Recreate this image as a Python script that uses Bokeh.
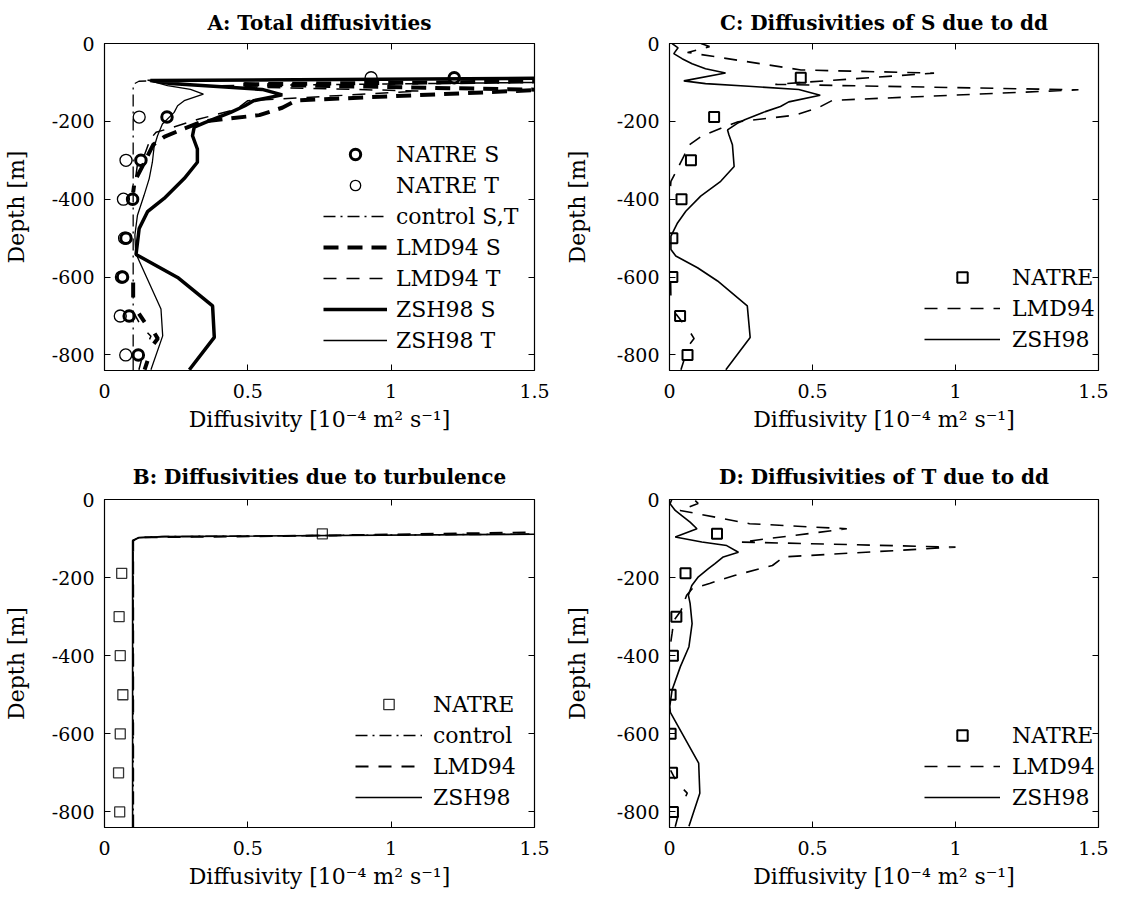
import numpy as np
from bokeh.plotting import figure
from bokeh.models import Range1d, FixedTicker, LinearAxis, Legend, LegendItem
from bokeh.layouts import column, row
from bokeh.embed import file_html
from bokeh.resources import INLINE

NAN = float("nan")

# ---------------- data ----------------
x_ticks = [0, 0.5, 1, 1.5]
x_tick_labels = ["0", "0.5", "1", "1.5"]
y_ticks = [-800, -600, -400, -200, 0]
y_tick_labels = ["-800", "-600", "-400", "-200", "0"]

natre_depth = [-88, -189, -300, -400, -500, -600, -700, -800]

# Panel A: total diffusivities
natre_S_total = [1.22, 0.218, 0.127, 0.098, 0.075, 0.063, 0.086, 0.118]
natre_T_total = [0.93, 0.121, 0.075, 0.066, 0.070, 0.059, 0.055, 0.074]
control_x = [0.10, 0.10, 0.12, 0.20, 1.50, 2.50]
control_d = [-840, -105, -97, -95, -88.5, -84]
lmd_S_total_x = [10, 2.5, 0.47, 1.53, 0.67, 0.62, 0.54, 0.34, 0.28, 0.21, 0.17, 0.13, 0.105, 0.10,
                 NAN, 0.10, 0.10, NAN, 0.12, 0.14, NAN, 0.175, 0.186, 0.172, NAN, 0.15, 0.14]
lmd_S_total_d = [-70, -90, -105, -119, -146, -165, -184, -201, -218, -239, -260, -319, -354, -383,
                 NAN, -614, -657, NAN, -694, -716, NAN, -745, -758, -771, NAN, -815, -838]
lmd_T_total_x = [10, 2.5, 0.35, 1.10, 0.50, 0.46, 0.33, 0.24, 0.18, 0.16, 0.14, 0.115, 0.109, 0.104,
                 NAN, 0.104, 0.12, NAN, 0.15, 0.162, 0.157, NAN, 0.13, 0.12]
lmd_T_total_d = [-70, -92, -109, -122, -147, -169, -194, -215, -228, -245, -285, -310, -343, -368,
                 NAN, -694, -716, NAN, -743, -752, -760, NAN, -810, -838]
zsh_S_total_x = [10, 1.6, 0.16, 0.23, 0.38, 0.55, 0.62, 0.52, 0.49, 0.44, 0.35, 0.313, 0.307, 0.324,
                 0.324, 0.278, 0.208, 0.150, 0.121, 0.110, 0.255, 0.377, 0.383, 0.296]
zsh_S_total_d = [-80, -89, -95, -103, -110, -118, -132, -147, -160, -177, -203, -215, -237, -271,
                 -305, -347, -398, -432, -475, -542, -601, -674, -755, -838]
zsh_T_total_x = [10, 1.55, 0.15, 0.22, 0.30, 0.345, 0.278, 0.255, 0.243, 0.202, 0.185, 0.173, 0.167,
                 0.156, 0.138, 0.115, 0.106, 0.109, 0.197, 0.203, 0.162]
zsh_T_total_d = [-80, -89, -94, -108, -118, -130, -147, -160, -177, -207, -237, -266, -305,
                 -347, -390, -441, -492, -539, -682, -751, -838]

# Panel B: turbulence
turb_natre = [0.76, 0.060, 0.051, 0.055, 0.064, 0.055, 0.049, 0.053]
turb_control_x = [0.10, 0.10, 0.12, 0.20, 1.50, 2.50]
turb_control_d = [-840, -105, -97, -95, -88.5, -84]
turb_lmd_x = [0.10, 0.10, 0.13, 0.79, 1.50, 2.50]
turb_lmd_d = [-840, -105, -97, -92, -84, -72]
turb_zsh_x = [0.098, 0.098, 0.12, 0.21, 1.50, 2.50]
turb_zsh_d = [-840, -105, -98, -95, -89, -84]

# Panel C: S due to double diffusion
ddS_natre = [0.459, 0.156, 0.075, 0.042, 0.010, 0.010, 0.037, 0.063]
ddS_lmd_x = [0.11, 0.14, 0.063, 0.46, 0.925, 0.37, 1.43, 0.57, 0.52, 0.44, 0.24, 0.18, 0.11, 0.07,
             0.03, 0.005, 0.002, NAN, 0.004, 0.005, NAN, 0.022, 0.045, NAN, 0.075, 0.086, 0.072,
             NAN, 0.05, 0.04]
ddS_lmd_d = [0, -8, -23, -68, -76, -105, -119, -146, -165, -184, -201, -218, -239, -260,
             -319, -354, -383, NAN, -614, -657, NAN, -694, -716, NAN, -745, -758, -771,
             NAN, -815, -838]
ddS_zsh_x = [0.009, 0.030, 0.015, 0.044, 0.079, 0.126, 0.196, 0.050, 0.126, 0.277, 0.452, 0.527,
             0.417, 0.388, 0.335, 0.265, 0.237, 0.203, 0.208, 0.220, 0.226, 0.179, 0.109, 0.057,
             0.028, 0.005, 0.005, 0.022, 0.098, 0.168, 0.272, 0.282, 0.197]
ddS_zsh_d = [0, -11, -26, -39, -52, -65, -76, -96, -103, -110, -118, -133,
             -150, -162, -175, -195, -205, -222, -235, -260, -316, -354, -392, -431,
             -461, -495, -529, -546, -576, -610, -674, -755, -838]

# Panel D: T due to double diffusion
ddT_natre = [0.166, 0.056, 0.024, 0.012, 0.004, 0.004, 0.009, 0.012]
ddT_lmd_x = [0.09, 0.10, 0.037, 0.28, 0.62, 0.25, 1.00, 0.40, 0.36, 0.23, 0.14, 0.08, 0.06, 0.04,
             0.015, 0.009, 0.004, NAN, 0.004, 0.02, NAN, 0.05, 0.062, 0.057, NAN, 0.03, 0.02]
ddT_lmd_d = [-3, -10, -28, -62, -75, -109, -122, -147, -169, -194, -215, -228, -245, -285,
             -310, -343, -368, NAN, -694, -716, NAN, -743, -752, -760, NAN, -810, -838]
ddT_zsh_x = [0.008, 0.002, 0.020, 0.043, 0.072, 0.096, 0.020, 0.113, 0.200, 0.241, 0.188, 0.159,
             0.136, 0.101, 0.078, 0.066, 0.072, 0.079, 0.068, 0.038, 0.009, 0.001, 0.003, 0.102,
             0.106, 0.068]
ddT_zsh_d = [0, -11, -28, -41, -58, -75, -96, -109, -118, -135, -147, -164,
             -177, -198, -220, -245, -266, -318, -377, -428, -488, -530, -545, -675,
             -752, -837]

# ---------------- styling helpers ----------------
FONT = "DejaVu Serif"
XLABEL = "Diffusivity [10\u207b\u2074 m\u00b2 s\u207b\u00b9]"


def make_fig(title, bl, br, bt, bb, fw, fh, title_standoff, ylab_standoff, top_gap):
    p = figure(frame_width=fw, frame_height=fh,
               x_range=Range1d(0, 1.5), y_range=Range1d(-840, 0),
               output_backend="svg", toolbar_location=None, title=title,
               min_border_left=bl, min_border_right=br,
               min_border_top=bt, min_border_bottom=bb,
               background_fill_color="white", border_fill_color="white")
    p.title.text_font = FONT
    p.title.text_font_style = "bold"
    p.title.text_font_size = "20px"
    p.title.text_color = "black"
    p.title.align = "center"
    p.title.standoff = title_standoff
    p.xgrid.visible = False
    p.ygrid.visible = False
    p.outline_line_color = "black"
    p.outline_line_width = 1.2
    p.outline_line_alpha = 1.0

    xa = p.xaxis[0]
    ya = p.yaxis[0]
    xa.ticker = FixedTicker(ticks=x_ticks)
    xa.major_label_overrides = dict(zip(x_ticks, x_tick_labels))
    ya.ticker = FixedTicker(ticks=y_ticks)
    ya.major_label_overrides = dict(zip(y_ticks, y_tick_labels))
    xa.axis_label = XLABEL
    ya.axis_label = "Depth [m]"
    xa.major_label_standoff = 13
    xa.axis_label_standoff = 6
    ya.major_label_standoff = 10
    ya.axis_label_standoff = ylab_standoff
    for ax in (xa, ya):
        ax.axis_line_color = None
        ax.major_tick_in = 6
        ax.major_tick_out = 0
        ax.minor_tick_in = 0
        ax.minor_tick_out = 0
        ax.major_tick_line_color = "black"
        ax.major_label_text_font = FONT
        ax.major_label_text_font_size = "19px"
        ax.major_label_text_color = "black"
        ax.axis_label_text_font = FONT
        ax.axis_label_text_font_style = "normal"
        ax.axis_label_text_font_size = "22px"
        ax.axis_label_text_color = "black"

    for place, ticks, gap in (("above", x_ticks, top_gap), ("right", y_ticks, 0)):
        ax = LinearAxis(ticker=FixedTicker(ticks=ticks))
        ax.major_label_overrides = {t: "" for t in ticks}
        ax.major_label_text_font_size = "0px"
        ax.major_label_standoff = gap
        ax.axis_line_color = None
        ax.major_tick_in = 6
        ax.major_tick_out = 0
        ax.minor_tick_in = 0
        ax.minor_tick_out = 0
        ax.major_tick_line_color = "black"
        p.add_layout(ax, place)
    return p


def add_legend(p, items, loc, glyph_w, standoff):
    leg = Legend(items=[LegendItem(label=l, renderers=[r]) for l, r in items],
                 location=loc, orientation="vertical", padding=0, margin=0,
                 spacing=5, glyph_width=glyph_w, glyph_height=26, label_height=26,
                 label_standoff=standoff, label_text_font=FONT,
                 label_text_font_size="22px", label_text_color="black",
                 border_line_color=None, background_fill_alpha=0)
    p.add_layout(leg)


THICK_DASH = "15 9"
THIN_DASH = "13 10"
DASH_DOT = "12 5 2 5"

# ---------------- Panel A ----------------
pA = make_fig("A: Total diffusivities", 103, 19, 41, 72, 430, 327, 17, 20, 0)
rA1 = pA.scatter(natre_S_total, natre_depth, marker="circle", size=10.5,
                 fill_color=None, line_color="black", line_width=3)
rA2 = pA.scatter(natre_T_total, natre_depth, marker="circle", size=12,
                 fill_color=None, line_color="black", line_width=1.3)
rA3 = pA.line(control_x, control_d, line_color="black", line_width=1.3, line_dash=DASH_DOT)
rA4 = pA.line(lmd_S_total_x, lmd_S_total_d, line_color="black", line_width=4, line_dash=THICK_DASH)
rA5 = pA.line(lmd_T_total_x, lmd_T_total_d, line_color="black", line_width=1.5, line_dash=THIN_DASH)
rA6 = pA.line(zsh_S_total_x, zsh_S_total_d, line_color="black", line_width=3.5)
rA7 = pA.line(zsh_T_total_x, zsh_T_total_d, line_color="black", line_width=1.3)
add_legend(pA, [("NATRE S", rA1), ("NATRE T", rA2), ("control S,T", rA3),
                ("LMD94 S", rA4), ("LMD94 T", rA5), ("ZSH98 S", rA6), ("ZSH98 T", rA7)],
           (219, 17), 64, 9)

# ---------------- Panel C ----------------
pC = make_fig("C: Diffusivities of S due to dd", 116, 10, 41, 72, 429, 327, 17, 24, 0)
rC1 = pC.scatter(ddS_natre, natre_depth, marker="square", size=10,
                 fill_color=None, line_color="black", line_width=2)
rC2 = pC.line(ddS_lmd_x, ddS_lmd_d, line_color="black", line_width=1.6, line_dash=THIN_DASH)
rC3 = pC.line(ddS_zsh_x, ddS_zsh_d, line_color="black", line_width=1.6)
add_legend(pC, [("NATRE", rC1), ("LMD94", rC2), ("ZSH98", rC3)], (255, 18), 76, 12)

# ---------------- Panel B ----------------
pB = make_fig("B: Diffusivities due to turbulence", 103, 19, 57, 66, 430, 328, 22, 20, 5)
rB1 = pB.scatter(turb_natre, natre_depth, marker="square", size=10,
                 fill_color=None, line_color="#333333", line_width=1.3)
rB2 = pB.line(turb_control_x, turb_control_d, line_color="black", line_width=1.5, line_dash=DASH_DOT)
rB3 = pB.line(turb_lmd_x, turb_lmd_d, line_color="black", line_width=2, line_dash=THIN_DASH)
rB4 = pB.line(turb_zsh_x, turb_zsh_d, line_color="black", line_width=1.6)
add_legend(pB, [("NATRE", rB1), ("control", rB2), ("LMD94", rB3), ("ZSH98", rB4)],
           (251, 17), 67, 11)

# ---------------- Panel D ----------------
pD = make_fig("D: Diffusivities of T due to dd", 116, 10, 57, 66, 429, 328, 22, 24, 5)
rD1 = pD.scatter(ddT_natre, natre_depth, marker="square", size=10,
                 fill_color=None, line_color="black", line_width=2)
rD2 = pD.line(ddT_lmd_x, ddT_lmd_d, line_color="black", line_width=1.6, line_dash=THIN_DASH)
rD3 = pD.line(ddT_zsh_x, ddT_zsh_d, line_color="black", line_width=1.6)
add_legend(pD, [("NATRE", rD1), ("LMD94", rD2), ("ZSH98", rD3)], (255, 17), 76, 12)

layout = column(row(pA, pC), row(pB, pD))
open("out.html", "w").write(file_html(layout, INLINE))
